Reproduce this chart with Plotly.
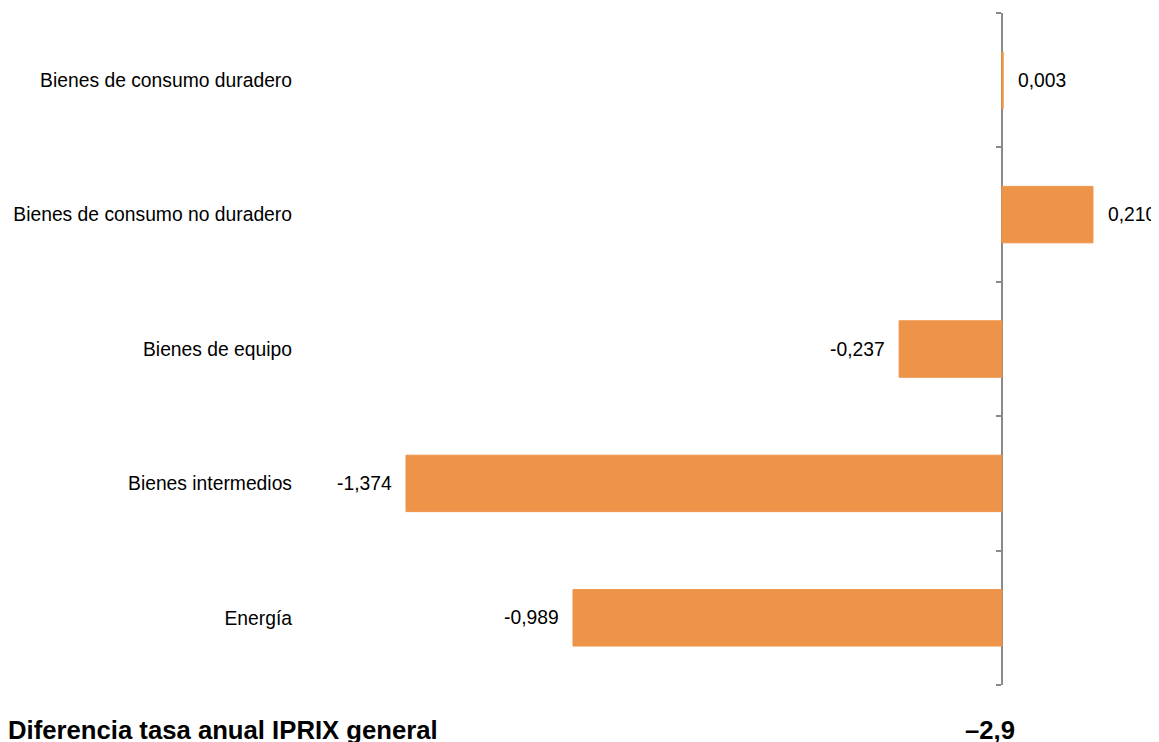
import plotly.graph_objects as go

categories = ["Energía", "Bienes intermedios", "Bienes de equipo",
              "Bienes de consumo no duradero", "Bienes de consumo duradero"]
values = [-0.989, -1.374, -0.237, 0.210, 0.003]
total_label = "Diferencia tasa anual IPRIX general"
total_value = -2.9

BAR_COLOR = "#EE9449"
AXIS_COLOR = "#8a8a8a"
FONT = "Liberation Sans, Arial, sans-serif"
LABEL_SIZE = 19.3
TOTAL_SIZE = 25.7

def fmt(v, dec=3):
    return f"{v:.{dec}f}".replace(".", ",")

x_range = [-1.6, 0.3]
zero_pos = (0 - x_range[0]) / (x_range[1] - x_range[0])

fig = go.Figure()
fig.add_trace(go.Bar(
    x=values, y=categories, orientation="h",
    marker=dict(color=BAR_COLOR, line=dict(width=1, color=BAR_COLOR)),
    width=0.42, hoverinfo="skip",
))
# invisible trace to carry the boundary-tick axis at zero
fig.add_trace(go.Scatter(x=[0], y=[0], yaxis="y2", mode="markers",
                         marker=dict(opacity=0), hoverinfo="skip",
                         showlegend=False))

for c, v in zip(categories, values):
    fig.add_annotation(x=v, y=c, xref="x", yref="y", text=fmt(v),
                       showarrow=False,
                       xanchor="left" if v >= 0 else "right",
                       xshift=13 if v >= 0 else -12,
                       font=dict(family=FONT, size=LABEL_SIZE, color="#000000"))

fig.add_annotation(xref="paper", yref="paper", x=-0.367, y=-0.067,
                   xanchor="left", yanchor="middle", showarrow=False,
                   text=f"<b>{total_label}</b>",
                   font=dict(family=FONT, size=TOTAL_SIZE, color="#000000"))
fig.add_annotation(xref="x", yref="paper", x=-0.028, y=-0.067,
                   xanchor="center", yanchor="middle", showarrow=False,
                   text="<b>" + fmt(total_value, 1).replace("-", "–") + "</b>",
                   font=dict(family=FONT, size=TOTAL_SIZE, color="#000000"))

n = len(categories)
fig.update_layout(
    width=1151, height=734,
    margin=dict(l=296, r=27, t=5, b=57),
    paper_bgcolor="white", plot_bgcolor="white",
    showlegend=False,
    font=dict(family=FONT, size=LABEL_SIZE, color="#000000"),
    xaxis=dict(range=x_range, showgrid=False, zeroline=False,
               showticklabels=False, showline=False, ticks=""),
    yaxis=dict(type="category", categoryorder="array", categoryarray=categories,
               range=[-0.5, n - 0.5], showgrid=False, zeroline=False,
               showline=False, ticks="", ticklabelstandoff=15,
               tickfont=dict(family=FONT, size=LABEL_SIZE, color="#000000")),
    yaxis2=dict(overlaying="y", anchor="free", position=zero_pos,
                range=[-0.5, n - 0.5],
                tickvals=[i - 0.5 for i in range(n + 1)],
                showticklabels=False, ticks="outside", ticklen=5,
                tickcolor=AXIS_COLOR, tickwidth=1.5,
                showline=True, linecolor=AXIS_COLOR, layer="below traces",
                linewidth=2, showgrid=False, zeroline=False),
)

fig.write_html("out.html")
